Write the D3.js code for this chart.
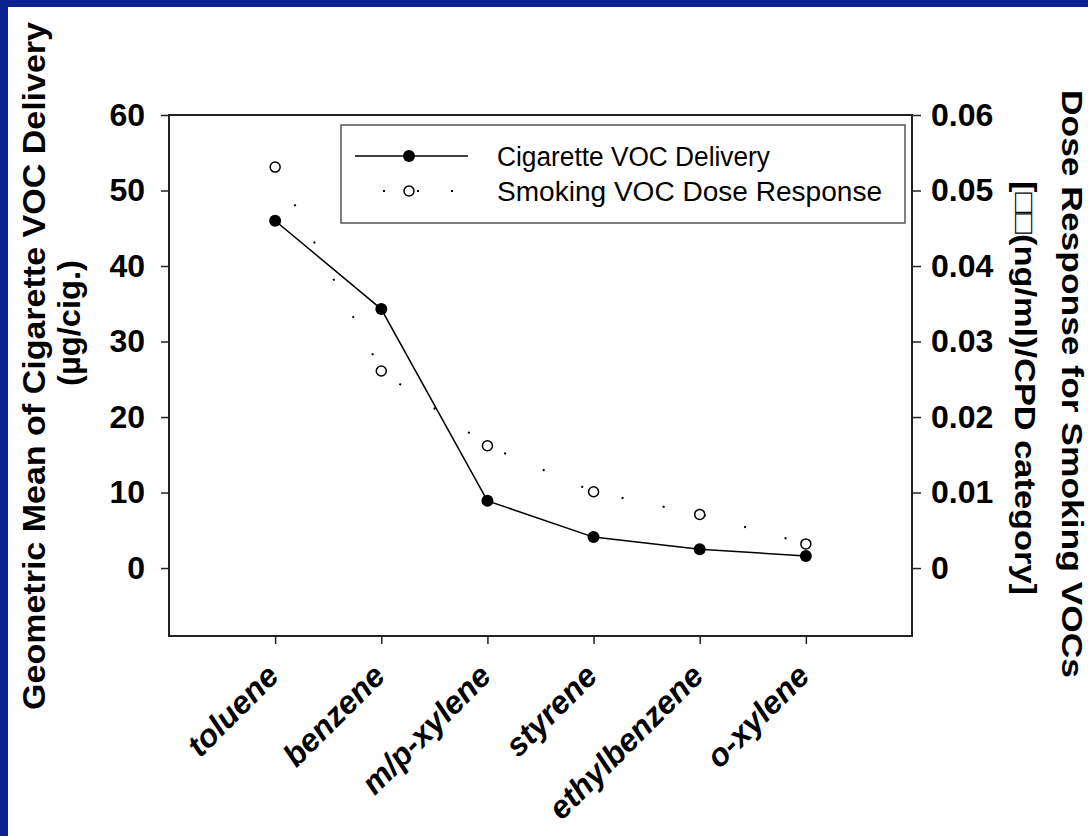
<!DOCTYPE html>
<html>
<head>
<meta charset="utf-8">
<script src="https://cdn.jsdelivr.net/npm/d3@7"></script>
<style>
  body { margin: 0; background: #0b2290; }
  svg { display: block; }
</style>
</head>
<body>
<div id="chart"></div>
<script>
// chart values
const categories = ["toluene", "benzene", "m/p-xylene", "styrene", "ethylbenzene", "o-xylene"];
const cigaretteDelivery = [46.0, 34.3, 8.9, 4.1, 2.5, 1.6];
const doseResponse = [0.0531, 0.0261, 0.0162, 0.0101, 0.0071, 0.0032];
const leftTicks = [0, 10, 20, 30, 40, 50, 60];
const rightTicks = [0, 0.01, 0.02, 0.03, 0.04, 0.05, 0.06];

const W = 1088, H = 836;
const font = "'Liberation Sans', Arial, sans-serif";

const svg = d3.select("#chart").append("svg")
    .attr("width", W)
    .attr("height", H);

// dark blue slide frame with white page
svg.append("rect").attr("width", W).attr("height", H).attr("fill", "#0b2290");
svg.append("rect").attr("x", 8).attr("y", 7).attr("width", W - 8).attr("height", H - 7).attr("fill", "#fff");

const plot = { left: 169, right: 912, top: 115, bottom: 636 };

const x = d3.scaleLinear().domain([0, 7]).range([plot.left, plot.right]);
const yL = d3.scaleLinear().domain([-9, 60]).range([plot.bottom, plot.top]);
const yR = d3.scaleLinear().domain([-0.009, 0.06]).range([plot.bottom, plot.top]);

// frame
svg.append("rect")
    .attr("x", plot.left).attr("y", plot.top)
    .attr("width", plot.right - plot.left).attr("height", plot.bottom - plot.top)
    .attr("fill", "none").attr("stroke", "#222").attr("stroke-width", 2);

// left axis
const gl = svg.append("g")
    .attr("transform", "translate(" + plot.left + ",0)")
    .call(d3.axisLeft(yL).tickValues(leftTicks).tickSize(8).tickPadding(16));
gl.select(".domain").remove();
gl.selectAll("line").attr("stroke", "#222").attr("stroke-width", 1.5);
gl.selectAll("text")
    .attr("font-family", font).attr("font-weight", "bold").attr("font-size", "32px").attr("fill", "#000");

// right axis
const gr = svg.append("g")
    .attr("transform", "translate(" + plot.right + ",0)")
    .call(d3.axisRight(yR).tickValues(rightTicks).tickSize(9).tickPadding(10)
        .tickFormat(d => d === 0 ? "0" : d3.format(".2f")(d)));
gr.select(".domain").remove();
gr.selectAll("line").attr("stroke", "#222").attr("stroke-width", 1.5);
gr.selectAll("text")
    .attr("font-family", font).attr("font-weight", "bold").attr("font-size", "32px").attr("fill", "#000");

// bottom axis
const gb = svg.append("g")
    .attr("transform", "translate(0," + plot.bottom + ")")
    .call(d3.axisBottom(x).tickValues([1, 2, 3, 4, 5, 6]).tickSize(8)
        .tickFormat(i => categories[i - 1]));
gb.select(".domain").remove();
gb.selectAll("line").attr("stroke", "#222").attr("stroke-width", 1.5);
gb.selectAll("text")
    .attr("font-family", font).attr("font-weight", "bold").attr("font-style", "italic")
    .attr("font-size", "32px").attr("fill", "#000")
    .attr("text-anchor", "end")
    .attr("dy", null)
    .attr("y", null)
    .attr("transform", "translate(5,42) rotate(-45)");

// cigarette VOC delivery: solid line with filled dots
svg.append("path")
    .datum(cigaretteDelivery)
    .attr("fill", "none").attr("stroke", "#000").attr("stroke-width", 1.5)
    .attr("d", d3.line().x((d, i) => x(i + 1)).y(d => yL(d)));

svg.selectAll(".cig")
    .data(cigaretteDelivery)
    .enter().append("circle")
    .attr("class", "cig")
    .attr("cx", (d, i) => x(i + 1))
    .attr("cy", d => yL(d))
    .attr("r", 6)
    .attr("fill", "#000");

// smoking dose response: dotted line with open dots
svg.append("path")
    .datum(doseResponse)
    .attr("fill", "none").attr("stroke", "#000").attr("stroke-width", 2)
    .attr("stroke-dasharray", "2,40")
    .attr("d", d3.line().x((d, i) => x(i + 1)).y(d => yR(d)));

svg.selectAll(".dose")
    .data(doseResponse)
    .enter().append("circle")
    .attr("class", "dose")
    .attr("cx", (d, i) => x(i + 1))
    .attr("cy", d => yR(d))
    .attr("r", 5)
    .attr("fill", "#fff").attr("stroke", "#000").attr("stroke-width", 1.5);

// legend
const lg = svg.append("g");
lg.append("rect")
    .attr("x", 341).attr("y", 125).attr("width", 564).attr("height", 98)
    .attr("fill", "#fff").attr("stroke", "#555").attr("stroke-width", 1.5);
lg.append("line").attr("x1", 355).attr("x2", 468).attr("y1", 156).attr("y2", 156)
    .attr("stroke", "#000").attr("stroke-width", 1.5);
lg.append("circle").attr("cx", 409).attr("cy", 156).attr("r", 6).attr("fill", "#000");
lg.append("line").attr("x1", 383).attr("x2", 468).attr("y1", 191).attr("y2", 191)
    .attr("stroke", "#000").attr("stroke-width", 2).attr("stroke-dasharray", "2,32");
lg.append("circle").attr("cx", 409).attr("cy", 191).attr("r", 5)
    .attr("fill", "#fff").attr("stroke", "#000").attr("stroke-width", 1.5);
lg.append("text").attr("x", 497).attr("y", 166)
    .attr("font-family", font).attr("font-size", "27px")
    .attr("textLength", 273).attr("lengthAdjust", "spacingAndGlyphs")
    .text("Cigarette VOC Delivery");
lg.append("text").attr("x", 497).attr("y", 201)
    .attr("font-family", font).attr("font-size", "27px")
    .attr("textLength", 385).attr("lengthAdjust", "spacingAndGlyphs")
    .text("Smoking VOC Dose Response");

// left title
svg.append("text")
    .attr("transform", "translate(45,366) rotate(-90)")
    .attr("text-anchor", "middle")
    .attr("font-family", font).attr("font-weight", "bold").attr("font-size", "31px")
    .attr("textLength", 688).attr("lengthAdjust", "spacingAndGlyphs")
    .text("Geometric Mean of Cigarette VOC Delivery");
svg.append("text")
    .attr("transform", "translate(80,323) rotate(-90)")
    .attr("text-anchor", "middle")
    .attr("font-family", font).attr("font-weight", "bold").attr("font-size", "31px")
    .attr("textLength", 126).attr("lengthAdjust", "spacingAndGlyphs")
    .text("(µg/cig.)");

// right title
svg.append("text")
    .attr("transform", "translate(1062,384) rotate(90)")
    .attr("text-anchor", "middle")
    .attr("font-family", font).attr("font-weight", "bold").attr("font-size", "29px")
    .attr("textLength", 588).attr("lengthAdjust", "spacingAndGlyphs")
    .text("Dose Response for Smoking VOCs");
svg.append("text")
    .attr("transform", "translate(1015,388) rotate(90)")
    .attr("text-anchor", "middle")
    .attr("font-family", font).attr("font-weight", "bold").attr("font-size", "29px")
    .attr("textLength", 414).attr("lengthAdjust", "spacingAndGlyphs")
    .text("[□□(ng/ml)/CPD category]");
</script>
</body>
</html>
